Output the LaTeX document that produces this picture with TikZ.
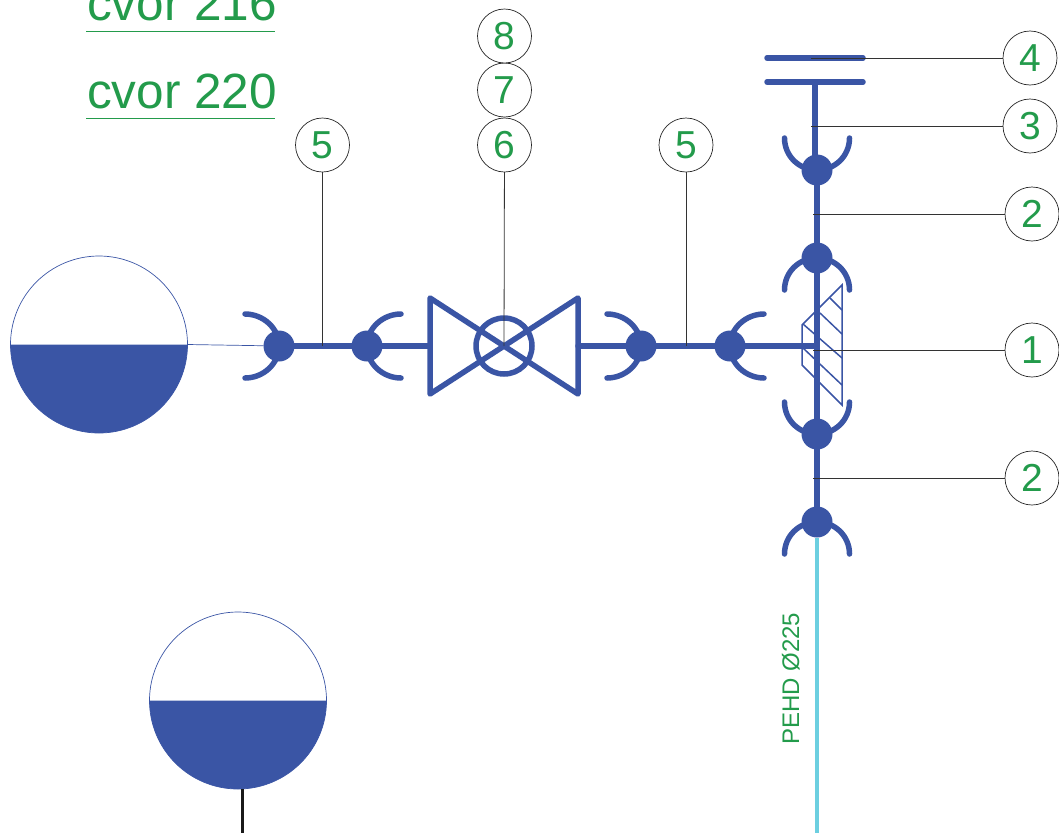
\documentclass[tikz,border=0pt]{standalone}
\usepackage{fontspec}
\setmainfont{Liberation Sans}
\definecolor{pipeblue}{HTML}{3A55A5}
\definecolor{labelgreen}{HTML}{239B4B}
\definecolor{pipecyan}{HTML}{6CCFE0}
\tikzset{
  pipe/.style={pipeblue, line width=5.5pt, line cap=round, line join=round},
  joint/.style={circle, fill=pipeblue, minimum size=31pt, inner sep=0pt, outer sep=0pt},
  tank/.style={circle, draw=pipeblue, line width=0.7pt, minimum size=177pt, inner sep=0pt, outer sep=0pt},
  hatch/.style={pipeblue, line width=1.5pt},
  leader/.style={black!80, line width=0.8pt},
  balloon/.style={circle, draw=black!85, line width=0.7pt, fill=white, minimum size=54pt, inner sep=0pt, outer sep=0pt,
    text=labelgreen, font=\fontsize{39}{39}\selectfont},
  title/.style={text=labelgreen, inner sep=0pt, anchor=base west, font=\fontsize{49.5}{50}\selectfont}
}
% the bell of a socket, from the joint out to its tip
\newcommand{\bell}[3]{\draw[pipe] (#1) .. controls +(#2*18,0) and +(0,-#3*18) .. +(#2*32.5,#3*32);}
\newcommand{\bellside}[3]{\draw[pipe] (#1) .. controls +(0,#3*18) and +(-#2*18,0) .. +(#2*34,#3*32);}
\begin{document}
\begin{tikzpicture}[x=1pt, y=-1pt]
  \useasboundingbox (0,0) rectangle (1059,833);
  \clip (0,0) rectangle (1059,833);

  % titles
  \node[title] (t216) at (87,20) {cvor 216};
  \node[title] (t220) at (87,108) {cvor 220};
  \draw[labelgreen, line width=1pt] (86,31) -- (275,31);
  \draw[labelgreen, line width=1pt] (86,118) -- (275,118);

  % tanks
  \node[tank] (tankA) at (99,344.5) {};
  \node[tank] (tankB) at (238,700.5) {};
  \fill[pipeblue] (tankA.west) arc[start angle=180, end angle=360, radius=88.5pt] -- cycle;
  \fill[pipeblue] (tankB.west) arc[start angle=180, end angle=360, radius=88.5pt] -- cycle;
  \coordinate (tankBfoot) at (242,833);
  \draw[black!90, line width=3pt] (242,789) -- (tankBfoot);

  % joints
  \node[joint] (jA) at (279,346) {};
  \node[joint] (jB) at (367,346) {};
  \node[joint] (jC) at (641,346) {};
  \node[joint] (jD) at (730,346) {};
  \node[joint] (jE) at (817,170) {};
  \node[joint] (jF) at (817,258) {};
  \node[joint] (jG) at (817,434) {};
  \node[joint] (jH) at (817,522) {};

  % valve
  \coordinate (vcenter) at (504,346);
  \coordinate (vleft) at (430,346);
  \coordinate (vright) at (578,346);
  \coordinate (tee) at (817,346);
  \draw[pipe] (430,298) -- (578,394) -- (578,298) -- (430,394) -- cycle;
  \node[circle, draw=pipeblue, line width=5.5pt, minimum size=56pt, inner sep=0pt] (vball) at (vcenter) {};

  % hatched support
  \draw[hatch] (842,285) -- (802,325) -- (802,365) -- (842,405) -- cycle;
  \draw[hatch] (830,298) -- (842,310);
  \draw[hatch] (820,313) -- (842,334);
  \draw[hatch] (803,324) -- (842,358);
  \draw[hatch] (803,348) -- (842,385);

  % pipes
  \coordinate (pipeend) at (817,833);
  \draw[pipecyan, line width=3.6pt] (jH) -- (pipeend);
  \draw[pipe] (jA) -- (jB);
  \draw[pipe] (jB) -- (vleft);
  \draw[pipe] (vright) -- (jC);
  \draw[pipe] (jC) -- (jD);
  \draw[pipe] (jD) -- (tee);
  \draw[pipe] (jF) -- (jE);
  \draw[pipe] (jF) -- (jH);
  \draw[pipeblue, line width=0.7pt] (tankA.east) -- (jA);

  % blind flange
  \coordinate (flangeA) at (767,58);
  \coordinate (flangeB) at (863,58);
  \coordinate (flangeC) at (767,82);
  \coordinate (flangeD) at (863,82);
  \coordinate (stem) at (815,82);
  \draw[pipe] (flangeA) -- (flangeB);
  \draw[pipe] (flangeC) -- (flangeD);
  \draw[pipe] (stem) -- (815,170);

  % socket bells
  \foreach \n/\sx/\sy in {jE/-1/-1, jE/1/-1, jF/-1/1, jF/1/1, jG/-1/-1, jG/1/-1, jH/-1/1, jH/1/1}
    \bell{\n.center}{\sx}{\sy};
  \foreach \n/\sx in {jA/-1, jB/1, jC/-1, jD/1} {
    \bellside{\n.center}{\sx}{-1}
    \bellside{\n.center}{\sx}{1}
  }

  % balloons
  \node[balloon] (bfour) at (1030,58) {4};
  \node[balloon] (bthree) at (1030,126) {3};
  \node[balloon] (btwoA) at (1032,214) {2};
  \node[balloon] (bone) at (1032,350) {1};
  \node[balloon] (btwoB) at (1032,478) {2};
  \node[balloon] (bfiveA) at (322.5,145) {5};
  \node[balloon] (bfiveB) at (686,145) {5};
  \node[balloon] (bsix) at (504.5,145) {6};
  \node[balloon] (bseven) at (504.5,90) {7};
  \node[balloon] (beight) at (504.5,36) {8};

  % leaders
  \coordinate (lfour) at (811,58);
  \coordinate (lthree) at (811,126);
  \coordinate (ltwoA) at (813,214);
  \coordinate (lone) at (813,350);
  \coordinate (ltwoB) at (813,478);
  \coordinate (lfiveA) at (322.5,346);
  \coordinate (lfiveB) at (686,346);
  \draw[leader] (bfour) -- (lfour);
  \draw[leader] (bthree) -- (lthree);
  \draw[leader] (btwoA) -- (ltwoA);
  \draw[leader] (bone) -- (lone);
  \draw[leader] (btwoB) -- (ltwoB);
  \draw[leader] (bfiveA) -- (lfiveA);
  \draw[leader] (bfiveB) -- (lfiveB);
  \draw[leader] (bsix) -- (vcenter);

  % pipe label
  \node[rotate=90, anchor=base west, inner sep=0pt, text=labelgreen, font=\fontsize{24}{24}\selectfont] (pehd) at (799,745) {PEHD Ø225};
\end{tikzpicture}
\end{document}
